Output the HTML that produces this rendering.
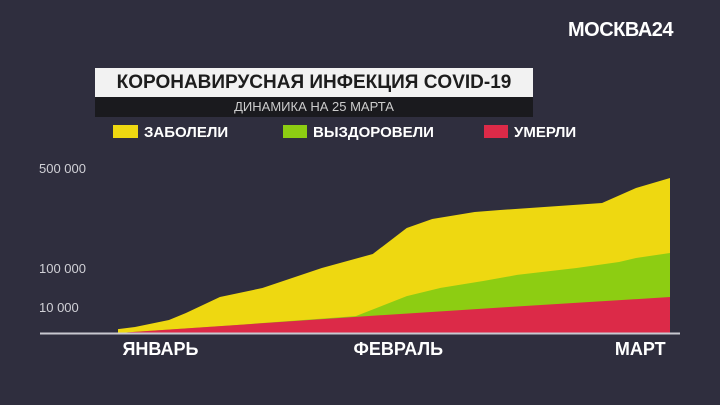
<!DOCTYPE html>
<html><head><meta charset="utf-8"><style>
body{margin:0;width:720px;height:405px;background:#2f2e3e;font-family:"Liberation Sans",sans-serif;overflow:hidden;position:relative}
.abs{position:absolute}
</style></head><body>
<div class="abs" style="left:568px;top:19px;color:#fff;font-weight:bold;font-size:20px;letter-spacing:-0.5px">МОСКВА24</div>
<div class="abs" style="left:95px;top:68px;width:438px;height:29px;background:#f2f2f2;color:#1d1d1d;font-size:19px;font-weight:bold;text-align:center;line-height:29px">КОРОНАВИРУСНАЯ ИНФЕКЦИЯ COVID-19</div>
<div class="abs" style="left:95px;top:97px;width:438px;height:20px;background:#1a1a1e;color:#ccc;font-size:13px;text-align:center;line-height:20px">ДИНАМИКА НА 25 МАРТА</div>
<div class="abs" style="left:113px;top:124px;font-size:15px;color:#fff;font-weight:bold"><span style="display:inline-block;width:25px;height:13px;background:#eed811;vertical-align:-1px;margin-right:6px"></span>ЗАБОЛЕЛИ</div>
<div class="abs" style="left:283px;top:124px;font-size:15px;color:#fff;font-weight:bold"><span style="display:inline-block;width:24px;height:13px;background:#8dcd12;vertical-align:-1px;margin-right:6px"></span>ВЫЗДОРОВЕЛИ</div>
<div class="abs" style="left:484px;top:124px;font-size:15px;color:#fff;font-weight:bold"><span style="display:inline-block;width:24px;height:13px;background:#dc2a48;vertical-align:-1px;margin-right:6px"></span>УМЕРЛИ</div>
<svg class="abs" style="left:0;top:0" width="720" height="405" id="chart"></svg>
<script>
const yellowDays=[0,2,6,8,12,17,24,30,34,37,42,45,57,61,65];
const yellowVals=[1500,2300,5000,7700,33000,53800,100000,156000,260000,296000,324000,332000,360000,420000,460000];
const greenDays=[0,14,28,34,38,43,47,54,59,61,65];
const greenVals=[0,3100,6500,35000,54000,70000,84000,100000,124000,140000,160000];
const redDays=[0,14,28,46,65];
const redVals=[0,3100,6200,10000,33000];
const tickVals=[500000,100000,10000];
const tickLabels=["500 000","100 000","10 000"];
const monthDays=[5,33,61.5];
const monthLabels=["ЯНВАРЬ","ФЕВРАЛЬ","МАРТ"];
const ns="http://www.w3.org/2000/svg";
const svg=document.getElementById('chart');
function xs(d){return 118+d*(552/65);}
function ys(v){
 if(v<=10000)return 333-v/10000*26;
 if(v<=100000)return 307-(v-10000)/90000*39;
 return 268-(v-100000)/400000*100;
}
function area(days,vals,color,name){
 let pts=days.map((d,i)=>xs(d)+','+ys(vals[i]));
 pts.push(xs(days[days.length-1])+',333',xs(days[0])+',333');
 const p=document.createElementNS(ns,'polygon');
 p.setAttribute('points',pts.join(' '));
 p.setAttribute('fill',color);
 
 
 svg.appendChild(p);
}
area(yellowDays,yellowVals,'#eed811','area-infected');
area(greenDays,greenVals,'#8dcd12','area-recovered');
area(redDays,redVals,'#dc2a48','area-deaths');
const ax=document.createElementNS(ns,'line');
ax.setAttribute('x1',40);ax.setAttribute('x2',680);ax.setAttribute('y1',333.5);ax.setAttribute('y2',333.5);
ax.setAttribute('stroke','#c8c8d0');ax.setAttribute('stroke-width',2);


svg.appendChild(ax);
tickVals.forEach((v,i)=>{
 const t=document.createElementNS(ns,'text');
 t.setAttribute('x',39);t.setAttribute('y',ys(v)+5);
 t.setAttribute('fill','#d0d0d6');t.setAttribute('font-size','13');
 t.setAttribute('font-family','Liberation Sans, sans-serif');
 t.textContent=tickLabels[i];
 
 
 svg.appendChild(t);
});
monthDays.forEach((d,i)=>{
 const t=document.createElementNS(ns,'text');
 t.setAttribute('x',xs(d));t.setAttribute('y',355);
 t.setAttribute('fill','#fff');t.setAttribute('font-size','18');t.setAttribute('font-weight','bold');
 t.setAttribute('text-anchor','middle');
 t.setAttribute('font-family','Liberation Sans, sans-serif');
 t.textContent=monthLabels[i];
 
 
 svg.appendChild(t);
});
</script>
</body></html>
